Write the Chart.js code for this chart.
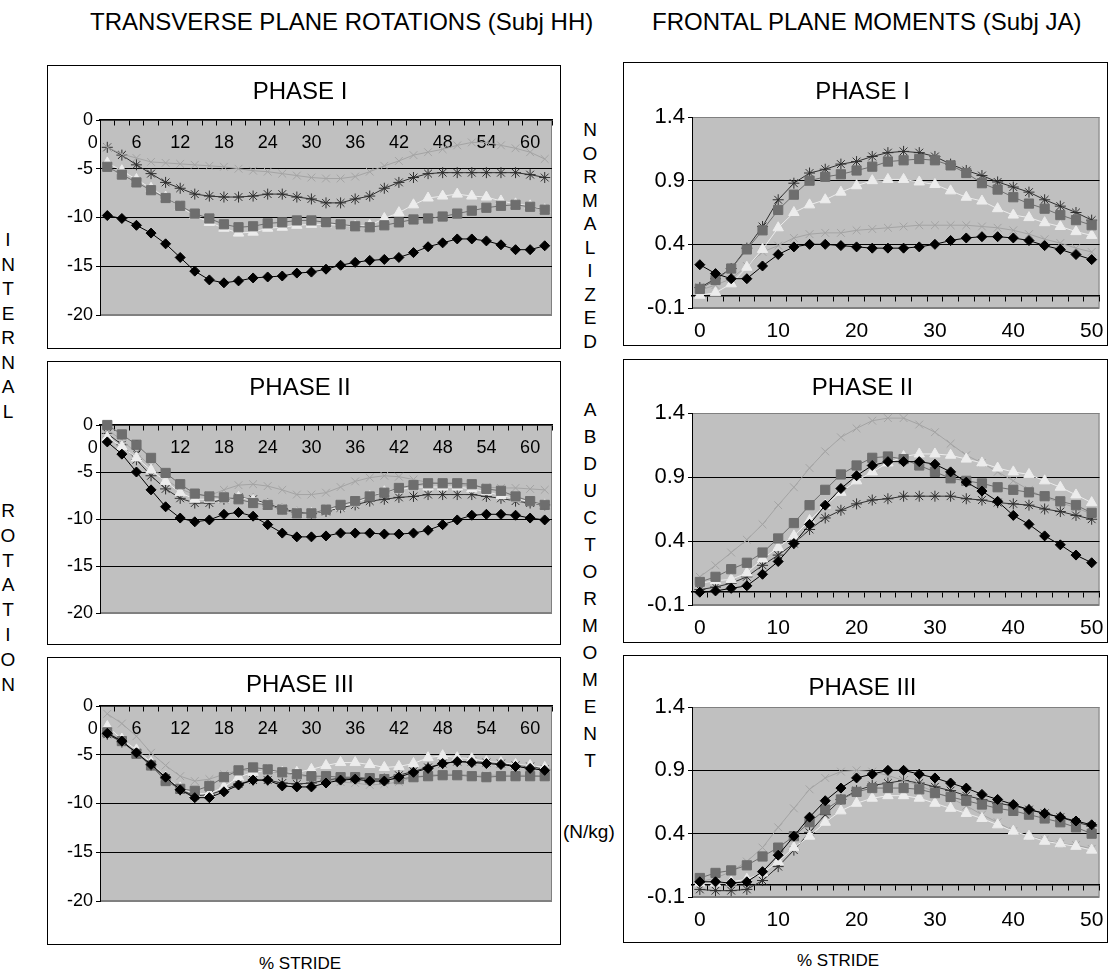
<!DOCTYPE html>
<html>
<head>
<meta charset="utf-8">
<script src="https://cdn.jsdelivr.net/npm/chart.js@4.4.1/dist/chart.umd.min.js"></script>
<style>
  body { margin: 0; background: #fff; width: 1109px; height: 980px; position: relative; overflow: hidden;
         font-family: "Liberation Sans", Arial, sans-serif; color: #000; }
  .box { position: absolute; border: 1px solid #000; box-sizing: border-box; background: #fff; }
  .box canvas { display: block; }
  .txt { position: absolute; white-space: nowrap; }
  .vert { position: absolute; text-align: center; width: 30px; font-size: 19px; }
</style>
</head>
<body>
<div class="txt" style="left:90px;top:8px;font-size:24px">TRANSVERSE PLANE ROTATIONS (Subj HH)</div>
<div class="txt" style="left:652px;top:8px;font-size:24px">FRONTAL PLANE MOMENTS (Subj JA)</div>

<div class="vert" style="left:-7px;top:228px;line-height:24.5px">I<br>N<br>T<br>E<br>R<br>N<br>A<br>L</div>
<div class="vert" style="left:-7px;top:499px;line-height:24.8px">R<br>O<br>T<br>A<br>T<br>I<br>O<br>N</div>

<div class="vert" style="left:575px;top:118px;line-height:23.5px">N<br>O<br>R<br>M<br>A<br>L<br>I<br>Z<br>E<br>D</div>
<div class="vert" style="left:575px;top:396px;line-height:27px">A<br>B<br>D<br>U<br>C<br>T<br>O<br>R<br>M<br>O<br>M<br>E<br>N<br>T</div>
<div class="txt" style="left:563px;top:821px;font-size:19px">(N/kg)</div>

<div class="txt" style="left:259px;top:954px;font-size:17px">% STRIDE</div>
<div class="txt" style="left:797px;top:951px;font-size:17px">% STRIDE</div>

<script>
// % stride categories
const strideL = [2, 4, 6, 8, 10, 12, 14, 16, 18, 20, 22, 24, 26, 28, 30, 32, 34, 36, 38, 40, 42, 44, 46, 48, 50, 52, 54, 56, 58, 60, 62];
const strideR = [0, 2, 4, 6, 8, 10, 12, 14, 16, 18, 20, 22, 24, 26, 28, 30, 32, 34, 36, 38, 40, 42, 44, 46, 48, 50];

// tick labels
const xLabelsL = [0, 6, 12, 18, 24, 30, 36, 42, 48, 54, 60];
const xMarksL = [1, 3, 5, 7, 9, 11, 13, 15, 17, 19, 21, 23, 25, 27, 29, 31, 33, 35, 37, 39, 41, 43, 45, 47, 49, 51, 53, 55, 57, 59, 61, 63];
const yTicksL = [-20, -15, -10, -5, 0];
const xLabelsR = [0, 10, 20, 30, 40, 50];
const xMarksR = [-1, 1, 3, 5, 7, 9, 11, 13, 15, 17, 19, 21, 23, 25, 27, 29, 31, 33, 35, 37, 39, 41, 43, 45, 47, 49, 51];
const yTicksR = [-0.1, 0.4, 0.9, 1.4];

// transverse plane rotations (Subj HH)
const rot1Diamond = [-9.8, -10.1, -10.8, -11.6, -12.7, -14.1, -15.5, -16.4, -16.7, -16.5, -16.2, -16.1, -16.0, -15.7, -15.6, -15.3, -14.9, -14.6, -14.4, -14.3, -14.1, -13.6, -13.0, -12.6, -12.2, -12.2, -12.4, -12.8, -13.3, -13.3, -12.9];
const rot1Square = [-4.8, -5.6, -6.4, -7.2, -8.0, -8.8, -9.6, -10.1, -10.7, -11.0, -10.9, -10.6, -10.5, -10.3, -10.3, -10.5, -10.7, -10.9, -11.0, -10.8, -10.5, -10.2, -10.1, -9.9, -9.6, -9.3, -9.0, -8.8, -8.7, -8.9, -9.2];
const rot1Triangle = [-4.4, -5.2, -6.1, -7.0, -7.9, -8.9, -9.8, -10.5, -11.1, -11.6, -11.5, -11.1, -11.0, -10.8, -10.7, -10.7, -10.8, -10.9, -10.8, -10.1, -9.5, -8.7, -8.0, -7.8, -7.6, -7.8, -7.9, -8.3, -8.6, -8.8, -9.2];
const rot1Cross = [-2.8, -3.5, -3.9, -4.3, -4.4, -4.5, -4.6, -4.7, -4.8, -5.0, -5.2, -5.3, -5.5, -5.7, -5.9, -6.0, -6.0, -5.8, -5.3, -4.7, -4.2, -3.6, -3.3, -3.0, -2.6, -2.3, -2.3, -2.6, -2.9, -3.3, -4.0];
const rot1Star = [-2.8, -3.6, -4.6, -5.5, -6.4, -7.0, -7.6, -7.8, -7.9, -7.9, -7.8, -7.6, -7.6, -7.9, -8.1, -8.5, -8.5, -8.1, -7.8, -7.0, -6.4, -5.9, -5.5, -5.4, -5.4, -5.4, -5.4, -5.4, -5.4, -5.6, -5.9];

const rot2Diamond = [-1.8, -3.1, -5.0, -6.9, -8.7, -9.9, -10.3, -10.1, -9.5, -9.3, -9.7, -10.6, -11.5, -11.9, -11.9, -11.8, -11.5, -11.5, -11.5, -11.6, -11.6, -11.5, -11.2, -10.6, -10.1, -9.6, -9.5, -9.5, -9.6, -9.9, -10.1];
const rot2Square = [0, -1.0, -2.1, -3.5, -5.1, -6.3, -7.3, -7.6, -7.7, -7.9, -8.3, -8.5, -9.0, -9.4, -9.4, -9.0, -8.5, -8.1, -7.6, -7.2, -6.7, -6.4, -6.2, -6.2, -6.2, -6.3, -6.8, -7.0, -7.6, -8.1, -8.5];
const rot2Triangle = [-1.3, -2.3, -3.5, -4.8, -6.0, -7.2, -7.9, -7.9, -7.9, -7.7, -8.0, -8.5, -9.0, -9.4, -9.4, -9.1, -8.7, -8.3, -7.6, -7.1, -6.9, -6.6, -6.6, -6.6, -6.6, -6.8, -7.1, -7.5, -7.8, -8.2, -8.5];
const rot2Cross = [-0.5, -1.6, -3.0, -4.4, -5.8, -6.8, -7.4, -7.5, -6.9, -6.4, -6.3, -6.5, -6.9, -7.4, -7.4, -7.2, -6.6, -6.0, -5.6, -5.4, -5.5, -5.8, -6.1, -6.2, -6.3, -6.5, -6.6, -6.7, -6.7, -6.8, -6.9];
const rot2Star = [-0.9, -2.1, -3.7, -5.4, -6.8, -7.8, -8.3, -8.3, -7.9, -7.7, -7.9, -8.4, -8.9, -9.3, -9.4, -9.2, -8.8, -8.5, -8.1, -7.9, -7.7, -7.6, -7.4, -7.4, -7.4, -7.4, -7.6, -7.8, -8.1, -8.3, -8.5];

const rot3Diamond = [-2.8, -3.6, -4.8, -6.0, -7.3, -8.6, -9.4, -9.4, -8.8, -8.1, -7.6, -7.6, -8.2, -8.3, -8.3, -7.9, -7.6, -7.5, -7.7, -7.7, -7.3, -6.8, -6.4, -5.9, -5.7, -5.8, -5.9, -6.0, -6.2, -6.4, -6.6];
const rot3Square = [-2.7, -3.6, -4.9, -6.1, -7.7, -8.5, -8.7, -8.2, -7.3, -6.6, -6.3, -6.5, -6.8, -7.0, -7.2, -7.2, -7.3, -7.3, -7.4, -7.5, -7.5, -7.3, -7.2, -7.1, -7.1, -7.2, -7.3, -7.2, -7.2, -7.2, -7.2];
const rot3Triangle = [-2.1, -3.4, -4.5, -5.8, -7.3, -8.4, -9.0, -9.0, -8.3, -7.3, -6.8, -6.6, -6.8, -6.8, -6.5, -6.1, -5.8, -5.8, -6.0, -6.3, -6.2, -5.9, -5.3, -5.1, -5.3, -5.4, -5.7, -5.8, -6.0, -6.1, -6.3];
const rot3Cross = [-0.8, -1.8, -3.1, -4.8, -6.1, -7.2, -7.7, -7.5, -7.0, -6.6, -6.6, -6.7, -6.9, -7.1, -7.3, -7.5, -7.8, -7.9, -8.1, -8.0, -7.8, -7.3, -7.1, -7.0, -7.0, -7.1, -7.1, -7.1, -7.1, -7.1, -7.2];
const rot3Star = [-2.9, -3.7, -4.8, -6.1, -7.4, -8.6, -9.2, -9.1, -8.6, -8.0, -7.6, -7.6, -7.9, -8.0, -7.9, -7.6, -7.4, -7.4, -7.5, -7.5, -7.1, -6.7, -6.3, -5.9, -5.7, -5.7, -5.8, -5.9, -6.1, -6.2, -6.5];

// frontal plane moments (Subj JA)
const mom1Diamond = [0.24, 0.17, 0.13, 0.13, 0.23, 0.32, 0.38, 0.40, 0.40, 0.39, 0.38, 0.37, 0.37, 0.37, 0.38, 0.40, 0.43, 0.45, 0.46, 0.46, 0.45, 0.43, 0.39, 0.36, 0.32, 0.28];
const mom1Square = [0.05, 0.12, 0.21, 0.36, 0.51, 0.67, 0.79, 0.90, 0.93, 0.95, 0.98, 1.01, 1.05, 1.06, 1.07, 1.06, 1.02, 0.96, 0.88, 0.83, 0.77, 0.72, 0.68, 0.63, 0.59, 0.55];
const mom1Triangle = [0.00, 0.02, 0.09, 0.22, 0.36, 0.53, 0.65, 0.71, 0.75, 0.81, 0.86, 0.90, 0.91, 0.91, 0.89, 0.87, 0.82, 0.77, 0.74, 0.68, 0.63, 0.61, 0.57, 0.54, 0.50, 0.47];
const mom1Cross = [0.04, 0.08, 0.13, 0.23, 0.34, 0.39, 0.45, 0.48, 0.49, 0.49, 0.51, 0.52, 0.53, 0.54, 0.55, 0.55, 0.55, 0.55, 0.54, 0.53, 0.51, 0.48, 0.44, 0.41, 0.37, 0.34];
const mom1Star = [0.06, 0.13, 0.21, 0.37, 0.54, 0.75, 0.88, 0.96, 0.99, 1.03, 1.05, 1.09, 1.12, 1.13, 1.12, 1.09, 1.03, 0.98, 0.94, 0.89, 0.85, 0.81, 0.75, 0.70, 0.65, 0.59];

const mom2Diamond = [0.00, 0.01, 0.03, 0.05, 0.14, 0.24, 0.38, 0.53, 0.68, 0.81, 0.91, 0.99, 1.02, 1.02, 1.02, 1.00, 0.94, 0.86, 0.79, 0.71, 0.60, 0.53, 0.44, 0.37, 0.29, 0.23];
const mom2Square = [0.08, 0.12, 0.18, 0.23, 0.31, 0.42, 0.54, 0.68, 0.80, 0.92, 0.99, 1.05, 1.06, 1.04, 0.99, 0.94, 0.89, 0.87, 0.85, 0.82, 0.80, 0.78, 0.75, 0.71, 0.68, 0.62];
const mom2Triangle = [0.07, 0.09, 0.10, 0.15, 0.26, 0.35, 0.44, 0.56, 0.68, 0.78, 0.87, 0.94, 1.01, 1.06, 1.08, 1.08, 1.07, 1.04, 1.01, 0.97, 0.94, 0.92, 0.87, 0.82, 0.76, 0.70];
const mom2Cross = [0.12, 0.21, 0.31, 0.41, 0.53, 0.68, 0.82, 0.97, 1.10, 1.21, 1.28, 1.34, 1.36, 1.36, 1.31, 1.25, 1.16, 1.07, 1.01, 0.94, 0.87, 0.80, 0.74, 0.70, 0.66, 0.61];
const mom2Star = [0.02, 0.04, 0.07, 0.12, 0.21, 0.29, 0.38, 0.49, 0.58, 0.64, 0.69, 0.72, 0.73, 0.75, 0.75, 0.75, 0.75, 0.73, 0.72, 0.70, 0.69, 0.68, 0.65, 0.63, 0.60, 0.57];

const mom3Diamond = [0.02, 0.02, 0.01, 0.02, 0.10, 0.23, 0.38, 0.53, 0.66, 0.76, 0.84, 0.87, 0.90, 0.90, 0.87, 0.84, 0.80, 0.76, 0.71, 0.67, 0.63, 0.59, 0.56, 0.53, 0.50, 0.47];
const mom3Square = [0.05, 0.09, 0.11, 0.15, 0.22, 0.29, 0.38, 0.49, 0.59, 0.67, 0.73, 0.76, 0.76, 0.76, 0.75, 0.72, 0.69, 0.66, 0.63, 0.60, 0.58, 0.55, 0.52, 0.49, 0.45, 0.40];
const mom3Triangle = [0.01, 0.01, 0.02, 0.04, 0.09, 0.18, 0.29, 0.38, 0.49, 0.58, 0.64, 0.68, 0.70, 0.70, 0.68, 0.64, 0.60, 0.56, 0.52, 0.47, 0.42, 0.38, 0.34, 0.32, 0.30, 0.27];
const mom3Cross = [0.02, 0.05, 0.10, 0.18, 0.29, 0.45, 0.60, 0.75, 0.84, 0.89, 0.90, 0.89, 0.86, 0.82, 0.78, 0.73, 0.68, 0.62, 0.55, 0.49, 0.42, 0.38, 0.35, 0.32, 0.31, 0.28];
const mom3Star = [-0.04, -0.05, -0.05, -0.04, 0.03, 0.14, 0.27, 0.41, 0.55, 0.67, 0.74, 0.78, 0.80, 0.82, 0.80, 0.77, 0.74, 0.70, 0.67, 0.64, 0.62, 0.59, 0.56, 0.53, 0.49, 0.46];

const FONT = '"Liberation Sans", Arial, sans-serif';

// marker look for the five series, Excel grayscale style
const seriesStyle = [
  { pointStyle: 'rectRot', color: '#000000', fill: '#000000', radius: 5 },
  { pointStyle: 'rect', color: '#6e6e6e', fill: '#6e6e6e', radius: 6.5 },
  { pointStyle: 'triangle', color: '#ececec', fill: '#ececec', radius: 6 },
  { pointStyle: 'crossRot', color: '#a4a4a4', fill: '#a4a4a4', radius: 5.5 },
  { pointStyle: 'star', color: '#303030', fill: '#303030', radius: 5.5 },
];

const plotBg = {
  id: 'plotBg',
  beforeDraw(chart) {
    const { ctx, chartArea: a } = chart;
    ctx.save();
    ctx.fillStyle = '#c0c0c0';
    ctx.fillRect(a.left, a.top, a.right - a.left, a.bottom - a.top);
    ctx.strokeStyle = '#808080';
    ctx.lineWidth = 1;
    ctx.strokeRect(a.left + 0.5, a.top + 0.5, a.right - a.left - 1, a.bottom - a.top - 1);
    ctx.restore();
  }
};

function makeDatasets(xs, series) {
  return series.map((ys, i) => {
    const s = seriesStyle[i];
    return {
      data: ys.map((y, k) => ({ x: xs[k], y: y })),
      borderColor: s.color,
      backgroundColor: s.fill,
      pointBorderColor: s.color,
      pointBackgroundColor: s.fill,
      pointStyle: s.pointStyle,
      pointRadius: s.radius,
      pointBorderWidth: 1,
      borderWidth: 1,
      tension: 0,
      clip: false,
    };
  });
}

function panel(box, plot, title, titleY, kind, xs, series) {
  const div = document.createElement('div');
  div.className = 'box';
  div.style.left = box[0] + 'px';
  div.style.top = box[1] + 'px';
  div.style.width = (box[2] - box[0]) + 'px';
  div.style.height = (box[3] - box[1]) + 'px';
  const canvas = document.createElement('canvas');
  canvas.width = box[2] - box[0] - 2;
  canvas.height = box[3] - box[1] - 2;
  div.appendChild(canvas);
  document.body.appendChild(div);

  const ox = box[0] + 1, oy = box[1] + 1;
  const titleSize = 24;
  const padTop = titleY - oy - 0.6 * titleSize;
  const padBottom = (plot[1] - oy) - padTop - 1.2 * titleSize;
  const yWidth = plot[0] - ox;
  const padRight = (box[2] - 1) - plot[2];
  const below = (box[3] - 1) - plot[3];
  const left = kind === 'rot';

  const scales = {
    y: {
      min: left ? -20 : -0.1,
      max: left ? 0 : 1.4,
      afterBuildTicks: s => { s.ticks = (left ? yTicksL : yTicksR).map(v => ({ value: v })); },
      afterFit: s => { s.width = yWidth; },
      ticks: {
        color: '#000', padding: 3,
        font: { family: FONT, size: left ? 18 : 22 },
        callback: v => left ? String(v) : v.toFixed(1),
      },
      grid: {
        tickLength: 4, tickColor: '#000', lineWidth: 1,
        color: c => {
          const v = c.tick.value;
          if (left) return v === 0 ? 'rgba(0,0,0,0)' : (v === -20 ? '#808080' : '#000');
          return (v === 1.4 || v === -0.1) ? '#808080' : '#000';
        },
      },
      border: { display: true, color: '#000', width: 1 },
    },
    xt: {
      type: 'linear',
      axis: 'x',
      min: left ? 1 : -1,
      max: left ? 63 : 51,
      position: { y: 0 },
      afterBuildTicks: s => { s.ticks = (left ? xMarksL : xMarksR).map(v => ({ value: v })); },
      ticks: { display: false },
      grid: { drawOnChartArea: false, drawTicks: true, tickLength: 5, color: '#000', tickColor: '#000' },
      border: { display: true, color: '#000', width: 1.5 },
    },
  };

  if (left) {
    scales.x = {
      type: 'linear',
      min: 1, max: 63,
      position: { y: 0 },
      afterBuildTicks: s => { s.ticks = xLabelsL.map(v => ({ value: v })); },
      ticks: { autoSkip: false, maxRotation: 0, color: '#000', padding: 12, font: { family: FONT, size: 18 } },
      grid: { display: false, drawTicks: false },
      border: { display: false },
    };
  } else {
    scales.x = {
      type: 'linear',
      min: -1, max: 51,
      position: 'bottom',
      afterBuildTicks: s => { s.ticks = xLabelsR.map(v => ({ value: v })); },
      afterFit: s => { s.height = below; s.paddingLeft = 0; s.paddingRight = 0; },
      ticks: { autoSkip: false, maxRotation: 0, color: '#000', padding: 11, font: { family: FONT, size: 21 } },
      grid: { display: false, drawTicks: false },
      border: { display: false },
    };
  }

  new Chart(canvas, {
    type: 'line',
    data: { datasets: makeDatasets(xs, series) },
    options: {
      responsive: false,
      animation: false,
      layout: { padding: { left: 0, top: 0, right: padRight, bottom: left ? below : 0 } },
      plugins: {
        legend: { display: false },
        tooltip: { enabled: false },
        title: {
          display: true,
          text: title,
          color: '#000',
          font: { family: FONT, size: titleSize, weight: 'normal', lineHeight: 1.2 },
          padding: { top: padTop, bottom: padBottom },
        },
      },
      scales: scales,
    },
    plugins: [plotBg],
  });
}

// left column: box [l, t, r, b], plot area [l, t, r, b]
panel([47, 65, 561, 349], [100, 120, 552, 315], 'PHASE I', 92, 'rot', strideL,
  [rot1Diamond, rot1Square, rot1Triangle, rot1Cross, rot1Star]);
panel([47, 361, 561, 645], [100, 425, 552, 613], 'PHASE II', 388, 'rot', strideL,
  [rot2Diamond, rot2Square, rot2Triangle, rot2Cross, rot2Star]);
panel([47, 657, 561, 945], [100, 706, 552, 901], 'PHASE III', 685, 'rot', strideL,
  [rot3Diamond, rot3Square, rot3Triangle, rot3Cross, rot3Star]);

// right column
panel([623, 62, 1108, 346], [692, 117, 1101, 308], 'PHASE I', 92, 'mom', strideR,
  [mom1Diamond, mom1Square, mom1Triangle, mom1Cross, mom1Star]);
panel([623, 359, 1108, 643], [692, 413, 1101, 605], 'PHASE II', 388, 'mom', strideR,
  [mom2Diamond, mom2Square, mom2Triangle, mom2Cross, mom2Star]);
panel([623, 655, 1108, 943], [692, 707, 1101, 897], 'PHASE III', 688, 'mom', strideR,
  [mom3Diamond, mom3Square, mom3Triangle, mom3Cross, mom3Star]);
</script>
</body>
</html>
